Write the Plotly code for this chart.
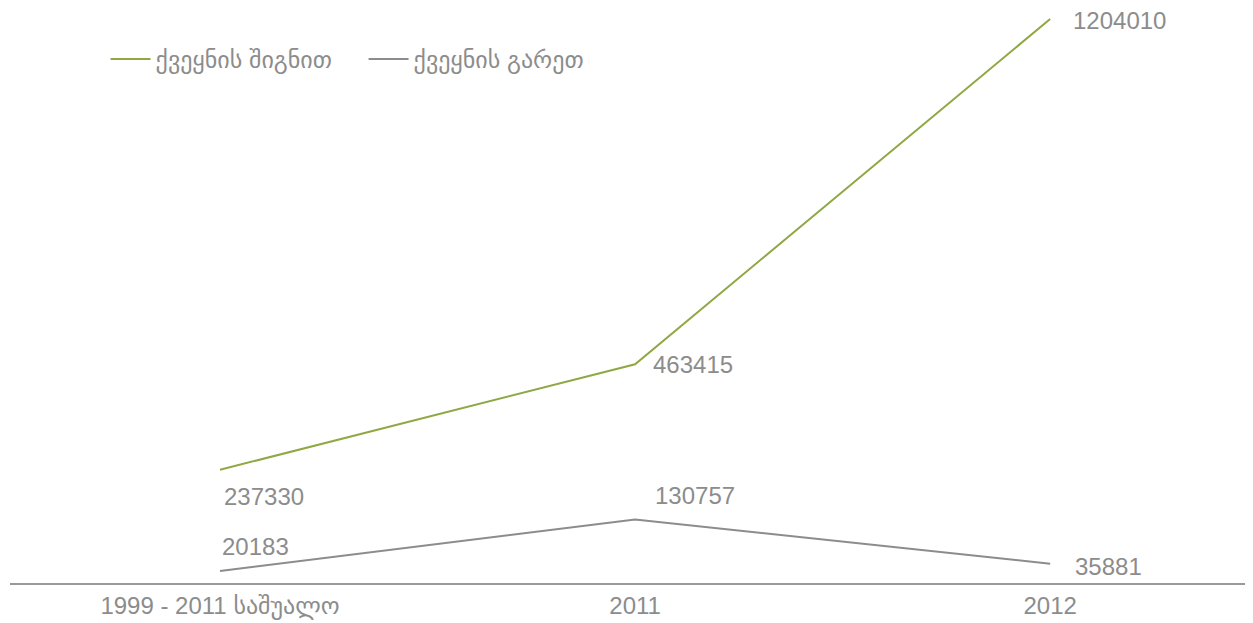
import plotly.graph_objects as go

categories = ["1999 - 2011 საშუალო", "2011", "2012"]
inside_name = "ქვეყნის შიგნით"
outside_name = "ქვეყნის გარეთ"
inside_values = [237330, 463415, 1204010]
outside_values = [20183, 130757, 35881]

GREEN = "#8fa844"
GREY = "#8c8c8c"
TEXT = "#8c8c8c"
FONT = "Liberation Sans, Arial, DejaVu Sans, sans-serif"

# label offsets (x, y) in px, per point
inside_offsets = [(2, -27), (16, 0), (21, -2)]
outside_offsets = [(0, 24), (18, 24), (23, -3)]

fig = go.Figure()

fig.add_trace(go.Scatter(
    x=categories, y=inside_values,
    mode="lines",
    name=inside_name,
    line=dict(color=GREEN, width=2),
))
fig.add_trace(go.Scatter(
    x=categories, y=outside_values,
    mode="lines",
    name=outside_name,
    line=dict(color=GREY, width=2),
))

# value labels; x given as category index so "2011" isn't read as a number
for vals, offs in [(inside_values, inside_offsets), (outside_values, outside_offsets)]:
    for i, (v, (dx, dy)) in enumerate(zip(vals, offs)):
        fig.add_annotation(
            x=i, y=v, text=str(v),
            showarrow=False, xanchor="left", yanchor="middle",
            xshift=dx, yshift=dy,
            font=dict(size=24, color=TEXT, family=FONT),
        )

fig.update_layout(
    width=1253, height=623,
    margin=dict(l=2, r=0, t=0, b=48),
    paper_bgcolor="white",
    plot_bgcolor="white",
    font=dict(family=FONT, size=24, color=TEXT),
    showlegend=True,
    legend=dict(
        orientation="h",
        x=0.0764, y=0.9496, xanchor="left", yanchor="top",
        font=dict(size=24, color=TEXT),
        bgcolor="rgba(0,0,0,0)",
        itemwidth=40,
        entrywidth=203,
    ),
    xaxis=dict(
        type="category",
        range=[-0.506, 2.508],
        showgrid=False,
        showline=True, linecolor="#999999", linewidth=2,
        ticks="", zeroline=False,
        tickfont=dict(size=24, color=TEXT),
    ),
    yaxis=dict(
        range=[-5576, 1227500],
        visible=False,
        showgrid=False, zeroline=False,
    ),
)

fig.write_html("out.html")
